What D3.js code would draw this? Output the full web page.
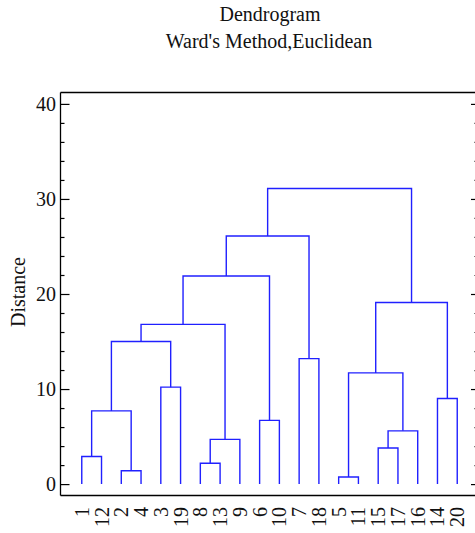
<!DOCTYPE html>
<html>
<head>
<meta charset="utf-8">
<script src="https://cdn.jsdelivr.net/npm/d3@7"></script>
<style>
  body { margin: 0; background: #fff; }
  svg text { font-family: "Liberation Serif", "Times New Roman", Times, serif; fill: #111; }
</style>
</head>
<body>
<script>
// leaves in plotted order
let hojas = ["1", "12", "2", "4", "3", "19", "8", "13", "9", "6", "10", "7", "18", "5", "11", "15", "17", "16", "14", "20"];

// merges: [name, left, right, distance]
let uniones = [
  ["A", "1", "12", 2.9],
  ["B", "2", "4", 1.4],
  ["C", "A", "B", 7.7],
  ["D", "3", "19", 10.2],
  ["E", "C", "D", 15.0],
  ["F", "8", "13", 2.2],
  ["G", "F", "9", 4.7],
  ["H", "E", "G", 16.8],
  ["I", "6", "10", 6.7],
  ["J", "H", "I", 21.9],
  ["K", "7", "18", 13.2],
  ["L", "J", "K", 26.1],
  ["M", "5", "11", 0.75],
  ["N", "15", "17", 3.8],
  ["O", "N", "16", 5.6],
  ["P", "M", "O", 11.7],
  ["Q", "14", "20", 9.0],
  ["R", "P", "Q", 19.1],
  ["S", "L", "R", 31.1]
];

let ticksY = [0, 10, 20, 30, 40];
let ticksMenores = [2, 4, 6, 8, 12, 14, 16, 18, 22, 24, 26, 28, 32, 34, 36, 38];

let fuente = '"Liberation Serif", "Times New Roman", Times, serif';

function graficar() {
  let w = 475;
  let h = 533;
  let svg = d3.select("body").append("svg").attr("width", w).attr("height", h);

  let izq = 60.5, der = 478, arriba = 92.5, abajo = 495.5;

  let x = d3.scaleLinear().domain([0, hojas.length + 1]).range([62, 477]);
  let y = d3.scaleLinear().domain([-1.2, 41.2]).range([abajo, arriba]);

  // position of every node: x center and height
  let pos = {};
  hojas.forEach(function (d, i) {
    pos[d] = { x: x(i + 1), v: 0 };
  });
  uniones.forEach(function (u) {
    pos[u[0]] = { x: (pos[u[1]].x + pos[u[2]].x) / 2, v: u[3] };
  });

  // frame
  svg.append("line").attr("x1", izq).attr("x2", der).attr("y1", arriba).attr("y2", arriba)
    .attr("stroke", "#000").attr("stroke-width", 1.3);
  svg.append("line").attr("x1", izq).attr("x2", der).attr("y1", abajo).attr("y2", abajo)
    .attr("stroke", "#000").attr("stroke-width", 1.3);
  svg.append("line").attr("x1", izq).attr("x2", izq).attr("y1", arriba).attr("y2", abajo)
    .attr("stroke", "#000").attr("stroke-width", 1.3);

  // left axis, ticks inward
  svg.append("g").attr("transform", "translate(" + izq + ",0)")
    .call(d3.axisRight(y).tickValues(ticksY).tickSize(9).tickFormat(""))
    .select(".domain").remove();
  svg.append("g").attr("transform", "translate(" + izq + ",0)")
    .call(d3.axisRight(y).tickValues(ticksMenores).tickSize(4).tickFormat(""))
    .select(".domain").remove();

  svg.selectAll(".lblY").data(ticksY).enter().append("text")
    .attr("x", 56)
    .attr("y", function (d) { return y(d) + 7; })
    .attr("text-anchor", "end")
    .style("font-family", fuente)
    .style("font-size", "20px")
    .text(function (d) { return d; });

  // right axis, ticks inward
  svg.append("g").attr("transform", "translate(" + der + ",0)")
    .call(d3.axisLeft(y).tickValues(ticksY).tickSize(7).tickFormat(""))
    .select(".domain").remove();
  svg.append("g").attr("transform", "translate(" + der + ",0)")
    .call(d3.axisLeft(y).tickValues(ticksMenores).tickSize(3.5).tickFormat(""))
    .select(".domain").remove();
  svg.selectAll(".tick line").attr("stroke", "#000").attr("stroke-width", 1.2);

  // dendrogram links
  let ramas = svg.append("g").attr("fill", "none").attr("stroke", "#2020ff").attr("stroke-width", 1.4);
  ramas.selectAll("path").data(uniones).enter().append("path")
    .attr("d", function (u) {
      let a = pos[u[1]], b = pos[u[2]];
      return "M" + a.x + "," + y(a.v) + "V" + y(u[3]) + "H" + b.x + "V" + y(b.v);
    });

  // leaf labels
  svg.selectAll(".hoja").data(hojas).enter().append("text")
    .attr("transform", function (d, i) {
      return "translate(" + (x(i + 1) + 7) + ",507) rotate(-90)";
    })
    .attr("text-anchor", "end")
    .style("font-family", fuente)
    .style("font-size", "20px")
    .text(function (d) { return d; });

  // titles
  svg.append("text").attr("x", 270).attr("y", 21).attr("text-anchor", "middle")
    .style("font-family", fuente)
    .style("font-size", "20px").text("Dendrogram");
  svg.append("text").attr("x", 269).attr("y", 48).attr("text-anchor", "middle")
    .style("font-family", fuente)
    .style("font-size", "20px").text("Ward's Method,Euclidean");

  svg.append("text")
    .attr("transform", "translate(25,292) rotate(-90)")
    .attr("text-anchor", "middle")
    .style("font-family", fuente)
    .style("font-size", "20px")
    .text("Distance");
}

graficar();
</script>
</body>
</html>
